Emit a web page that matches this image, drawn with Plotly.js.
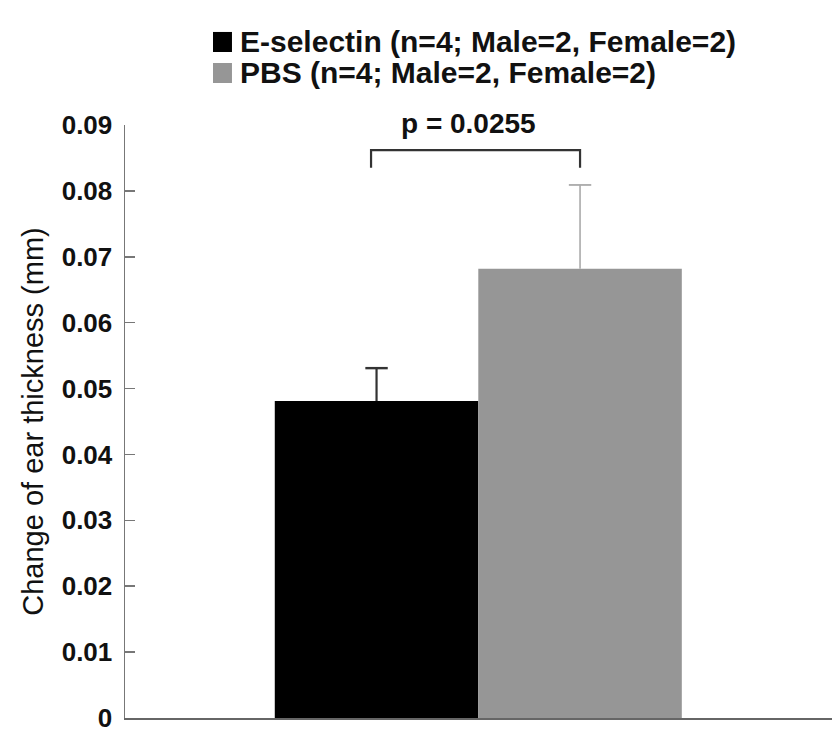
<!DOCTYPE html>
<html>
<head>
<meta charset="utf-8">
<script src="https://cdn.plot.ly/plotly-3.0.1.min.js"></script>
<style>html,body{margin:0;padding:0;background:#fff;}#chart{width:832px;height:733px;}</style>
</head>
<body>
<div id="chart"></div>
<script>
// ---- data ----
const categories = ["E-selectin", "PBS"];
const legendLabels = ["E-selectin (n=4; Male=2, Female=2)", "PBS (n=4; Male=2, Female=2)"];
const means = [0.0481, 0.0682];
const errors = [0.0050, 0.0127];
const barColors = ["#000000", "#969696"];
const errColors = ["#333333", "#aaaaaa"];
const pValueText = "p = 0.0255";
const yTickVals = [0, 0.01, 0.02, 0.03, 0.04, 0.05, 0.06, 0.07, 0.08, 0.09];
const yTickText = ["0", "0.01", "0.02", "0.03", "0.04", "0.05", "0.06", "0.07", "0.08", "0.09"];
const bracketY = 0.0862;
const bracketTickY = 0.0835;

const sans = '"Liberation Sans", Arial, sans-serif';

const traces = [];
categories.forEach((c, i) => {
  traces.push({
    type: 'bar', x: [c], y: [means[i]], width: 1,
    marker: {color: barColors[i], line: {width: 0}},
    showlegend: false, hoverinfo: 'y'
  });
});
// upper error bars: cap marker at mean+error, stem down to the mean
categories.forEach((c, i) => {
  traces.push({
    type: 'scatter', mode: 'markers', x: [c], y: [means[i] + errors[i]],
    marker: {symbol: 'line-ew-open', size: 16, color: errColors[i], line: {color: errColors[i], width: i === 0 ? 2.4 : 1.8}},
    error_y: {type: 'data', symmetric: false, array: [0], arrayminus: [errors[i]], visible: true,
              color: errColors[i], thickness: i === 0 ? 2.2 : 1.6, width: 0},
    showlegend: false, hoverinfo: 'skip'
  });
});

// legend built from labels (swatches + text)
const legendRowY = [1.140, 1.0877];
const legendShapes = legendLabels.map((lab, i) => ({
  type: 'rect', xref: 'paper', yref: 'paper', x0: 0.1245, x1: 0.1513,
  y0: legendRowY[i] - 0.0169, y1: legendRowY[i] + 0.0169, fillcolor: barColors[i], line: {width: 0}
}));
const legendAnns = legendLabels.map((lab, i) => ({
  xref: 'paper', yref: 'paper', x: 0.1598, y: legendRowY[i], xanchor: 'left', yanchor: 'middle',
  text: lab, showarrow: false, font: {family: sans, size: 30, color: '#111', weight: 'bold'}
}));

const layout = {
  width: 832, height: 733,
  margin: {l: 125, r: 0, t: 125, b: 15},
  paper_bgcolor: '#fff', plot_bgcolor: '#fff',
  barmode: 'overlay',
  showlegend: false,
  xaxis: {type: 'category', range: [-1.236, 2.238], showticklabels: false, ticks: '',
          showline: true, linecolor: '#666', linewidth: 2, showgrid: false, zeroline: false, fixedrange: true},
  yaxis: {range: [0, 0.09], tickvals: yTickVals, ticktext: yTickText, ticks: 'inside', ticklen: 10, tickwidth: 1.5,
          tickcolor: '#777', showline: true, linecolor: '#777', linewidth: 1.5, showgrid: false, zeroline: false,
          ticklabelstandoff: 6, ticklabeloverflow: 'allow',
          tickfont: {family: sans, size: 26, color: '#111', weight: 'bold'},
          title: {text: 'Change of ear thickness (mm)', font: {family: sans, size: 29, color: '#111'}, standoff: 9}},
  shapes: [
    {type: 'path', xref: 'x', yref: 'y', layer: 'above',
     path: 'M ' + (-0.027) + ',' + bracketTickY + ' L ' + (-0.027) + ',' + bracketY + ' L 1,' + bracketY + ' L 1,' + bracketTickY,
     line: {color: '#333', width: 2.2}}
  ].concat(legendShapes),
  annotations: [
    {xref: 'x', yref: 'y', x: 0.45, y: bracketY, yanchor: 'bottom', yshift: 9, text: pValueText, showarrow: false,
     font: {family: sans, size: 28, color: '#111', weight: 'bold'}}
  ].concat(legendAnns)
};

Plotly.newPlot('chart', traces, layout, {displayModeBar: false, staticPlot: true});
</script>
</body>
</html>
